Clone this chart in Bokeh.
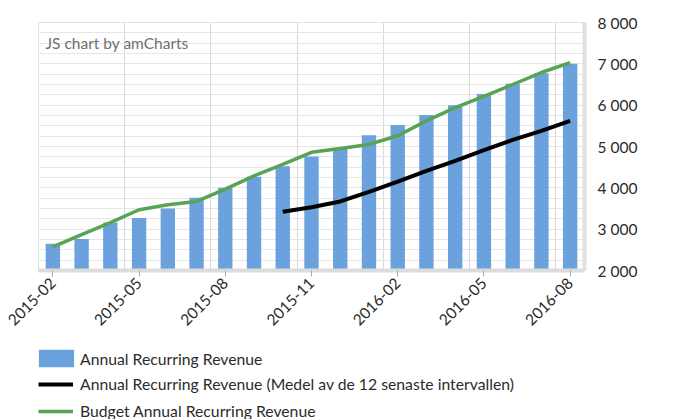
import math
import numpy as np
from bokeh.plotting import figure
from bokeh.layouts import column
from bokeh.models import (ColumnDataSource, FixedTicker, Range1d, Legend, LegendItem, Label)
from bokeh.embed import file_html
from bokeh.resources import INLINE

# ---------------- data ----------------
months = ["2015-02", "2015-03", "2015-04", "2015-05", "2015-06", "2015-07", "2015-08",
          "2015-09", "2015-10", "2015-11", "2015-12", "2016-01", "2016-02", "2016-03",
          "2016-04", "2016-05", "2016-06", "2016-07", "2016-08"]
arr = [2650, 2760, 3160, 3270, 3500, 3760, 4000, 4270, 4520, 4760, 4950, 5270, 5520,
       5760, 6000, 6270, 6520, 6770, 7000]
avg12 = [None] * 8 + [3420, 3530, 3670, 3900, 4150, 4410, 4650, 4910, 5160, 5380, 5620]
budget = [2570, 2870, 3160, 3470, 3590, 3670, 3970, 4290, 4570, 4860, 4950, 5050, 5260,
          5620, 5940, 6210, 6500, 6790, 7030]
y_ticks = [2000, 3000, 4000, 5000, 6000, 7000, 8000]
y_tick_labels = ["2 000", "3 000", "4 000", "5 000", "6 000", "7 000", "8 000"]
label_every = 3
series_names = ["Annual Recurring Revenue",
                "Annual Recurring Revenue (Medel av de 12 senaste intervallen)",
                "Budget Annual Recurring Revenue"]
y_title = "KSEK"
credit = "JS chart by amCharts"

FONT = "Lato"
BLUE = "#6ba1dd"
GREEN = "#58a454"
TXT = "#2b2b2b"
FS = "15.5px"

n = len(months)
idx = list(range(n))
src = ColumnDataSource(dict(
    x=idx, arr=arr, budget=budget,
    avg=[np.nan if v is None else v for v in avg12],
))

p = figure(width=674, height=340,
           x_range=Range1d(-0.5, n - 0.5), y_range=Range1d(y_ticks[0], y_ticks[-1]),
           y_axis_location="right", output_backend="svg", toolbar_location=None,
           min_border_left=38, min_border_right=90, min_border_top=22,
           min_border_bottom=70)
p.background_fill_color = "white"
p.border_fill_color = "white"
p.outline_line_color = "#e2e2e2"

bars = p.vbar(x="x", top="arr", bottom=0, width=0.5, source=src,
              fill_color=BLUE, line_color=None)
avg_line = p.line(x="x", y="avg", source=src, line_color="black", line_width=4)
bud_line = p.line(x="x", y="budget", source=src, line_color=GREEN, line_width=3.5)

# grids
p.xgrid.ticker = FixedTicker(ticks=[i - 0.5 for i in range(label_every, n, label_every)])
p.xgrid.grid_line_color = "#d9d9d9"
p.ygrid.ticker = FixedTicker(ticks=list(np.arange(y_ticks[0], y_ticks[-1] + 1, 250)))
p.ygrid.grid_line_color = "#e6e6e6"

# x axis
xa = p.xaxis[0]
xa.ticker = FixedTicker(ticks=list(range(0, n, label_every)))
xa.major_label_overrides = {i: months[i] for i in range(0, n, label_every)}
xa.major_label_orientation = math.pi / 4
xa.major_label_text_font = FONT
xa.major_label_text_font_size = FS
xa.major_label_text_color = TXT
xa.major_label_standoff = 4
xa.axis_line_color = "#dcdcdc"
xa.axis_line_width = 4
xa.major_tick_line_color = "#a8a8a8"
xa.major_tick_out = 6
xa.major_tick_in = 0
xa.minor_tick_line_color = None

# y axis (right)
ya = p.yaxis[0]
ya.ticker = FixedTicker(ticks=y_ticks)
ya.major_label_overrides = dict(zip(y_ticks, y_tick_labels))
ya.major_label_text_font = FONT
ya.major_label_text_font_size = FS
ya.major_label_text_color = TXT
ya.major_label_standoff = 13
ya.major_tick_line_color = None
ya.major_tick_out = 0
ya.minor_tick_line_color = None
ya.axis_line_color = "#e0e0e0"
ya.axis_line_width = 4

# y title (reads bottom to top)
p.add_layout(Label(x=628, y=124, x_units="screen", y_units="screen", text=y_title,
                   angle=math.pi / 2, text_align="center", text_baseline="middle",
                   text_font=FONT, text_font_size="15px", text_font_style="bold",
                   text_color="#111111"))

# credit
p.add_layout(Label(x=7, y=228, x_units="screen", y_units="screen", text=credit,
                   text_align="left", text_baseline="alphabetic",
                   text_font=FONT, text_font_size=FS, text_color="#6f6f6f"))

# ---------------- legend strip ----------------
lg = figure(width=674, height=79, x_range=Range1d(0, 1), y_range=Range1d(0, 1),
            x_axis_location=None, y_axis_location=None, output_backend="svg",
            toolbar_location=None, min_border=0, min_border_left=38,
            min_border_right=90)
lg.outline_line_color = None
lg.xgrid.visible = False
lg.ygrid.visible = False
# legend keys reuse the chart's styling; the renderers themselves are hidden
k_bar = lg.vbar(x="x", top="arr", width=0.5, source=src, fill_color=BLUE, line_color=None,
                visible=False)
k_avg = lg.line(x="x", y="avg", source=src, line_color="black", line_width=4, visible=False)
k_bud = lg.line(x="x", y="budget", source=src, line_color=GREEN, line_width=3.5,
                visible=False)


def style(leg):
    leg.padding = 0
    leg.margin = 0
    leg.border_line_color = None
    leg.background_fill_alpha = 0
    leg.inactive_fill_alpha = 0
    leg.label_text_font = FONT
    leg.label_text_font_size = "15.75px"
    leg.label_text_color = TXT
    leg.label_height = 18


leg1 = Legend(items=[LegendItem(label=series_names[0], renderers=[k_bar])],
              location=(-4, 50), glyph_width=44, glyph_height=22, label_standoff=2)
style(leg1)
leg2 = Legend(items=[LegendItem(label=series_names[1], renderers=[k_avg]),
                     LegendItem(label=series_names[2], renderers=[k_bud])],
              location=(0, -1), glyph_width=35, glyph_height=18, label_standoff=7,
              spacing=8)
style(leg2)
lg.add_layout(leg1, "center")
lg.add_layout(leg2, "center")

open("out.html", "w").write(file_html(column(p, lg), INLINE))
